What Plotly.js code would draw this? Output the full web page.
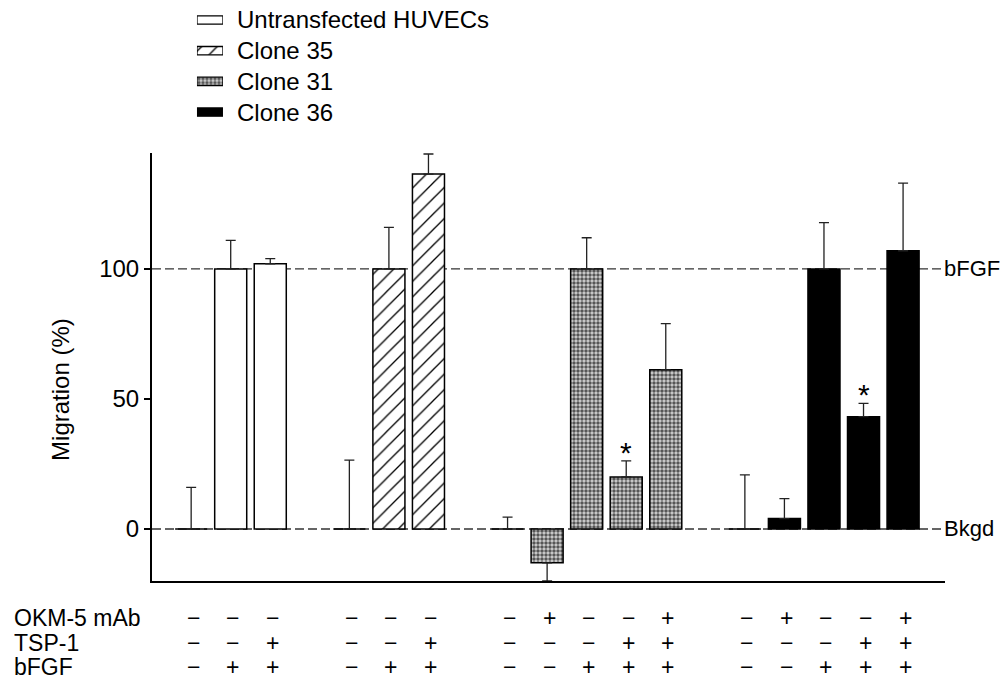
<!DOCTYPE html>
<html>
<head>
<meta charset="utf-8">
<script src="https://cdn.plot.ly/plotly-3.0.1.min.js"></script>
<style>html,body{margin:0;padding:0;background:#fff;}#chart{width:1003px;height:690px;}</style>
</head>
<body>
<div id="chart"></div>
<script>
// ---- data ----
const groupNames = ['Untransfected HUVECs', 'Clone 35', 'Clone 31', 'Clone 36'];

const untrVals   = [0, 100, 102];
const untrErrUp  = [16, 11, 2];
const untrErrDn  = [0, 0, 0];
const untrSig    = [0, 0, 0];

const c35Vals    = [0, 100, 136.5];
const c35ErrUp   = [26.5, 16, 7.7];
const c35ErrDn   = [0, 0, 0];
const c35Sig     = [0, 0, 0];

const c31Vals    = [0, -13, 100, 20, 61.2];
const c31ErrUp   = [4.6, 0, 12, 6.2, 17.8];
const c31ErrDn   = [0, 7, 0, 0, 0];
const c31Sig     = [0, 0, 0, 1, 0];

const c36Vals    = [0, 4, 100, 43.2, 107];
const c36ErrUp   = [20.8, 7.7, 17.8, 5.1, 26];
const c36ErrDn   = [0, 0, 0, 0, 0];
const c36Sig     = [0, 0, 0, 1, 0];

const okmRow  = ['−','−','−', '−','−','−', '−','+','−','−','+', '−','+','−','−','+'];
const tspRow  = ['−','−','+', '−','−','+', '−','−','−','+','+', '−','−','−','+','+'];
const bfgfRow = ['−','+','+', '−','+','+', '−','−','+','+','+', '−','−','+','+','+'];
const rowLabels = ['OKM-5 mAb', 'TSP-1', 'bFGF'];

const yTicks = [0, 50, 100];
const refLevels = [100, 0];
const refLabels = ['bFGF', 'Bkgd'];
const yTitle = 'Migration (%)';

// ---- build ----
const FONT = 'Liberation Sans, Arial, Helvetica, sans-serif';
const FS = 24;
const groups = [
  {vals: untrVals, up: untrErrUp, dn: untrErrDn, sig: untrSig},
  {vals: c35Vals, up: c35ErrUp, dn: c35ErrDn, sig: c35Sig},
  {vals: c31Vals, up: c31ErrUp, dn: c31ErrDn, sig: c31Sig},
  {vals: c36Vals, up: c36ErrUp, dn: c36ErrDn, sig: c36Sig}
];
const styles = [
  {color: 'white', pattern: {shape: ''}},
  {color: 'white', pattern: {shape: '/', fgcolor: 'black', bgcolor: 'white', size: 11, solidity: 0.12}},
  {color: '#a0a0a0', pattern: {shape: '.', fgcolor: '#555', bgcolor: '#d4d4d4', size: 4, solidity: 0.6}},
  {color: 'black', pattern: {shape: ''}}
];

// slot positions: groups separated by one empty slot
let slot = 0;
const positions = [];
groups.forEach((g) => {
  const p = [];
  g.vals.forEach(() => { p.push(slot); slot++; });
  positions.push(p);
  slot++;
});
const allPos = positions.flat();

const traces = [];
const annotations = [];
groups.forEach((g, gi) => {
  traces.push({
    type: 'bar', x: positions[gi], y: g.vals, width: 0.81,
    name: groupNames[gi], showlegend: false,
    marker: {color: styles[gi].color, pattern: styles[gi].pattern, line: {color: 'black', width: 1.5}},
    error_y: {type: 'data', symmetric: false, array: g.up, arrayminus: g.dn,
              color: '#222', thickness: 1.3, width: 5},
    hoverinfo: 'x+y'
  });
  // legend swatch in a small subplot
  traces.push({
    type: 'bar', orientation: 'h', x: [1], y: [gi], width: 0.27,
    xaxis: 'x2', yaxis: 'y2', showlegend: false, name: groupNames[gi],
    marker: {color: styles[gi].color, pattern: styles[gi].pattern, line: {color: 'black', width: 1.3}},
    hoverinfo: 'skip'
  });
  annotations.push({
    xref: 'x2', yref: 'y2', x: 1, y: gi, xanchor: 'left', yanchor: 'middle',
    xshift: 12, showarrow: false, text: groupNames[gi],
    font: {family: FONT, size: FS, color: 'black'}
  });
  g.sig.forEach((s, i) => {
    if (s) annotations.push({
      xref: 'x', yref: 'y', x: positions[gi][i], y: g.vals[i] + g.up[i],
      yanchor: 'bottom', yshift: -10, showarrow: false, text: '*',
      font: {family: FONT, size: 30, color: 'black'}
    });
  });
});

// reference labels
refLevels.forEach((lv, i) => {
  annotations.push({
    xref: 'paper', yref: 'y', x: 1, y: lv, xanchor: 'left', yanchor: 'middle',
    xshift: -3, showarrow: false, text: refLabels[i],
    font: {family: FONT, size: 22, color: 'black'}
  });
});

// treatment table
const rows = [okmRow, tspRow, bfgfRow];
const rowY = [-0.062, -0.105, -0.147];
rows.forEach((row, ri) => {
  annotations.push({
    xref: 'paper', yref: 'paper', x: -0.1765, y: rowY[ri], xanchor: 'left', yanchor: 'middle',
    height: 23, showarrow: false, text: rowLabels[ri], font: {family: FONT, size: 23, color: 'black'}
  });
  row.forEach((sgn, i) => {
    annotations.push({
      xref: 'x', yref: 'paper', x: allPos[i], y: rowY[ri], xanchor: 'center', yanchor: 'middle',
      height: 23, xshift: 2, showarrow: false, text: sgn, font: {family: FONT, size: 23, color: 'black'}
    });
  });
});

// y title
annotations.push({
  xref: 'paper', yref: 'paper', x: -0.1148, y: 0.3305, xanchor: 'center', yanchor: 'middle',
  textangle: -90, showarrow: false, text: yTitle, font: {family: FONT, size: FS, color: 'black'}
});

const shapes = refLevels.map(lv => ({
  type: 'line', xref: 'paper', yref: 'y', x0: 0, x1: 1, y0: lv, y1: lv,
  line: {color: '#333', width: 1.3, dash: '9px,4px'}, layer: 'below'
}));

const layout = {
  width: 1003, height: 690,
  margin: {l: 152, r: 58, t: 0, b: 109, pad: 0},
  paper_bgcolor: 'white', plot_bgcolor: 'white',
  font: {family: FONT, size: FS, color: 'black'},
  showlegend: false,
  bargap: 0,
  xaxis: {range: [-0.99, 19.06], showline: true, linecolor: 'black', linewidth: 2,
          ticks: '', showticklabels: false, showgrid: false, zeroline: false, fixedrange: true},
  yaxis: {domain: [0, 0.7367], range: [-20, 144.6], showline: true, linecolor: 'black', linewidth: 2,
          ticks: 'outside', ticklen: 6, tickwidth: 1.5, tickcolor: 'black',
          tickvals: yTicks, ticktext: yTicks.map(String),
          tickfont: {family: FONT, size: FS, color: 'black'},
          showgrid: false, zeroline: false, fixedrange: true},
  xaxis2: {domain: [0.0567, 0.0895], range: [0, 1], anchor: 'y2', visible: false, fixedrange: true},
  yaxis2: {domain: [0.7808, 0.992], range: [3.5, -0.5], anchor: 'x2', visible: false, fixedrange: true},
  shapes: shapes,
  annotations: annotations
};

Plotly.newPlot('chart', traces, layout, {displayModeBar: false, staticPlot: true});
</script>
</body>
</html>
